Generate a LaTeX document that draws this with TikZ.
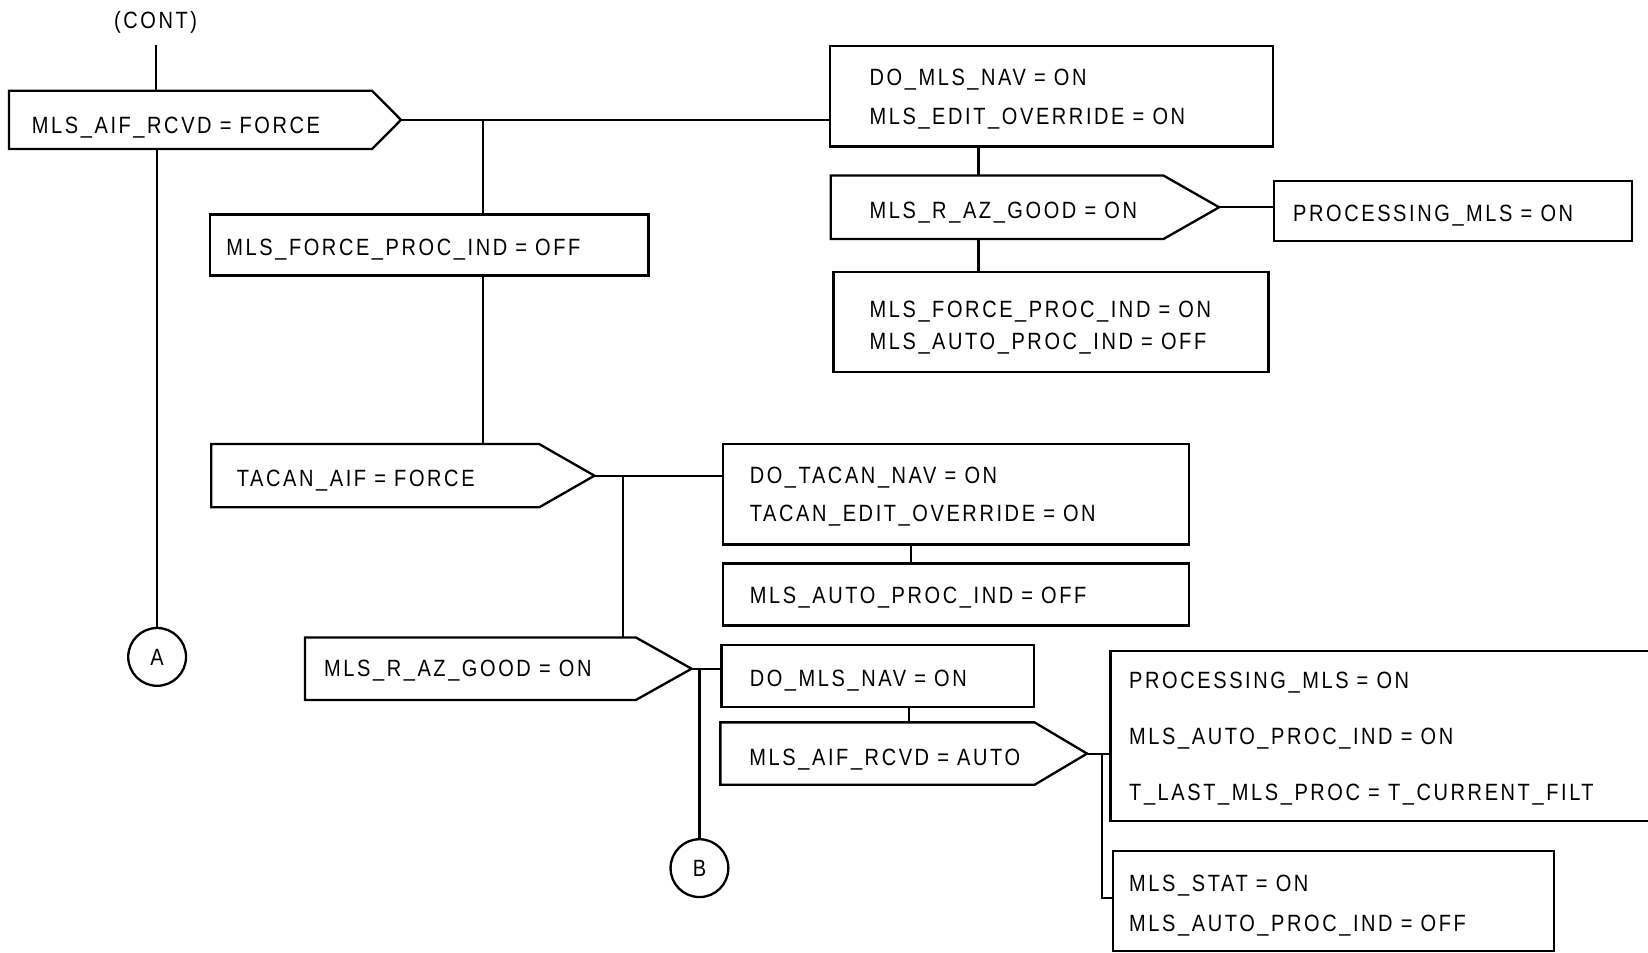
\documentclass[tikz,border=0pt]{standalone}
\usepackage{fontspec}
\setmainfont{Liberation Sans}[FakeStretch=0.85,LetterSpace=11]
\usetikzlibrary{calc}
\tikzset{
  box/.style={draw, line width=1.1pt, rectangle, inner sep=0pt, outer sep=0pt, anchor=north west},
  body/.style={rectangle, inner sep=0pt, outer sep=0pt, anchor=north west},
  outline/.style={line width=1.1pt, line join=miter},
  txt/.style={anchor=base west, inner sep=0pt, font=\fontsize{11.2}{13}\selectfont},
  conn/.style={line width=1pt},
  circ/.style={draw, circle, line width=1.1pt, minimum size=27.5pt, inner sep=0pt, outer sep=0pt, font=\fontsize{11.2}{13}\selectfont}
}
\newcommand{\pentout}[2]{%
  \coordinate (#1tip) at ($(#1.east)+(#2,0)$);
  \draw[outline] (#1.north west) -- (#1.north east) -- (#1tip) -- (#1.south east) -- (#1.south west) -- cycle;}
\begin{document}
\begin{tikzpicture}[x=0.5pt,y=-0.5pt]
\useasboundingbox (0,0) rectangle (1568,906);

% pentagon bodies
\node[body, minimum width=172.75pt, minimum height=27.75pt] (p1) at (8.5,86.3) {};
\pentout{p1}{27.5}
\node[body, minimum width=158.25pt, minimum height=30.2pt] (p2) at (790.5,167) {};
\pentout{p2}{53}
\node[body, minimum width=156pt, minimum height=30.1pt] (p3) at (201,422.5) {};
\pentout{p3}{52.6}
\node[body, minimum width=157.4pt, minimum height=29.75pt] (p4) at (290.2,606.5) {};
\pentout{p4}{53}
\node[body, minimum width=149.45pt, minimum height=29.7pt] (p5) at (685.4,687.3) {};
\pentout{p5}{50}

% rectangles
\node[box, minimum width=210.5pt, minimum height=48pt] (tr1) at (790,43.5) {};
\node[box, minimum width=208.5pt, minimum height=29pt] (rf) at (200,204) {};
\node[box, minimum width=170.5pt, minimum height=28.5pt] (pm1) at (1212,172) {};
\node[box, minimum width=207pt, minimum height=47.5pt] (tr3) at (793,259) {};
\node[box, minimum width=221.75pt, minimum height=47.75pt] (dt) at (688,422.5) {};
\node[box, minimum width=221.75pt, minimum height=29.5pt] (ma1) at (688,536) {};
\node[box, minimum width=148.5pt, minimum height=29.2pt] (dm) at (686.5,614) {};
\node[box, minimum width=266.65pt, minimum height=80.9pt] (pm2) at (1056.7,619.5) {};
\node[box, minimum width=209.8pt, minimum height=47.75pt] (ms) at (1059,809.5) {};

% connectors (circles)
\node[circ] (A) at (149.5,625) {A};
\node[circ] (B) at (665.5,826) {B};

% texts
\node[txt, anchor=base] (cont) at (148,27) {(CONT)};
\node[txt] (t1) at (30,127) {MLS\_AIF\_RCVD = FORCE};
\node[txt] (t2) at (215,243) {MLS\_FORCE\_PROC\_IND = OFF};
\node[txt] (t3) at (827,81) {DO\_MLS\_NAV = ON};
\node[txt] (t4) at (827,118) {MLS\_EDIT\_OVERRIDE = ON};
\node[txt] (t5) at (827,208) {MLS\_R\_AZ\_GOOD = ON};
\node[txt] (t6) at (1230,211) {PROCESSING\_MLS = ON};
\node[txt] (t7) at (827,302) {MLS\_FORCE\_PROC\_IND = ON};
\node[txt] (t8) at (827,333) {MLS\_AUTO\_PROC\_IND = OFF};
\node[txt] (t9) at (225,463) {TACAN\_AIF = FORCE};
\node[txt] (t10) at (713,460) {DO\_TACAN\_NAV = ON};
\node[txt] (t11) at (713,496.5) {TACAN\_EDIT\_OVERRIDE = ON};
\node[txt] (t12) at (713,574) {MLS\_AUTO\_PROC\_IND = OFF};
\node[txt] (t13) at (308,644) {MLS\_R\_AZ\_GOOD = ON};
\node[txt] (t14) at (713,653.4) {DO\_MLS\_NAV = ON};
\node[txt] (t15) at (712.7,728) {MLS\_AIF\_RCVD = AUTO};
\node[txt] (t16) at (1074,655) {PROCESSING\_MLS = ON};
\node[txt] (t17) at (1074,708.4) {MLS\_AUTO\_PROC\_IND = ON};
\node[txt] (t18) at (1074,761.3) {T\_LAST\_MLS\_PROC = T\_CURRENT\_FILT};
\node[txt] (t19) at (1074,848.6) {MLS\_STAT = ON};
\node[txt] (t20) at (1074,886.6) {MLS\_AUTO\_PROC\_IND = OFF};

% junction coordinates
\coordinate (c0) at (148.7,42.8);
\coordinate (j1) at ($(p1tip)+(78.2,0)$);
\coordinate (j2) at ($(p3tip)+(26.8,0)$);
\coordinate (j3) at ($(p4tip)+(7.5,0)$);
\coordinate (j4) at ($(p5tip)+(14.3,0)$);
\coordinate (d1) at ($(dt.south west)+(178.5,0)$);
\coordinate (d2) at ($(tr1.south west)+(141,0)$);
\coordinate (d3) at ($(dm.south west)+(178,0)$);

\draw[conn] (c0) -- (c0 |- p1.north);
\draw[conn] (A.north) -- (A.north |- p1.south);
\draw[conn] (p1tip) -- (p1tip -| tr1.west);
\draw[conn] (j1) -- (j1 |- rf.north);
\draw[conn] (j1 |- rf.south) -- (j1 |- p3.north);
\draw[conn] (d2) -- (d2 |- p2.north);
\draw[conn] (d2 |- p2.south) -- (d2 |- tr3.north);
\draw[conn] (p2tip) -- (p2tip -| pm1.west);
\draw[conn] (p3tip) -- (p3tip -| dt.west);
\draw[conn] (j2) -- (j2 |- p4.north);
\draw[conn] (d1) -- (d1 |- ma1.north);
\draw[conn] (p4tip) -- (p4tip -| dm.west);
\draw[conn] (B.north) -- (B.north |- j3);
\draw[conn] (d3) -- (d3 |- p5.north);
\draw[conn] (p5tip) -- (p5tip -| pm2.west);
\draw[conn] (j4) |- ($(ms.west)+(0,-3)$);
\end{tikzpicture}
\end{document}
